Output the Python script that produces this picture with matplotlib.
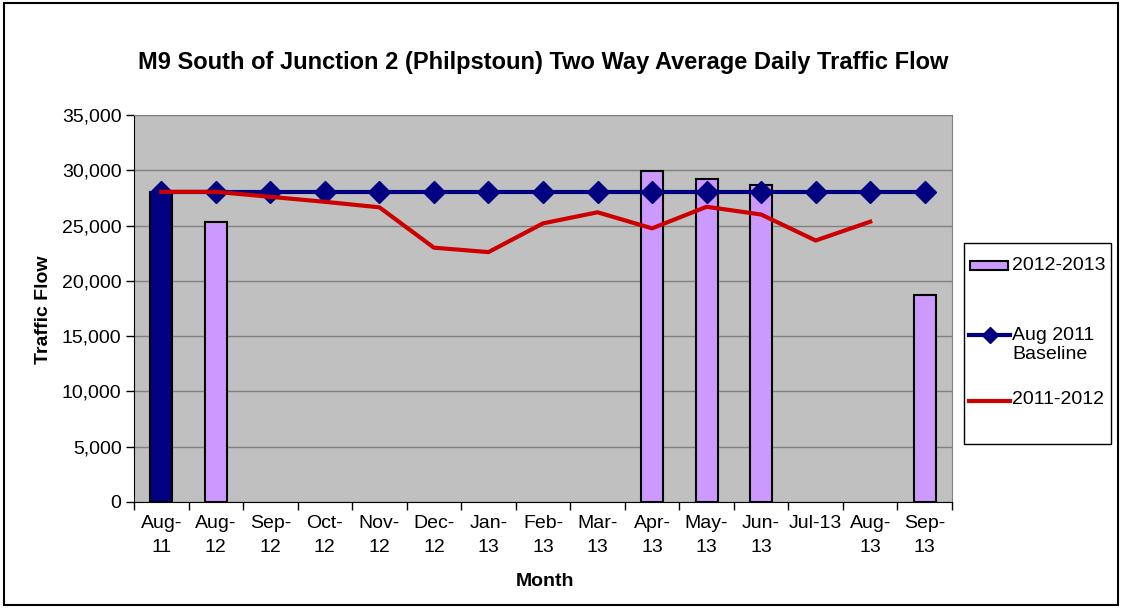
import matplotlib
matplotlib.use("Agg")
import matplotlib.pyplot as plt
import numpy as np
from matplotlib.patches import Rectangle
from matplotlib.lines import Line2D

plt.rcParams['font.family'] = ['Liberation Sans', 'DejaVu Sans']

months = ["Aug-\n11", "Aug-\n12", "Sep-\n12", "Oct-\n12", "Nov-\n12", "Dec-\n12", "Jan-\n13",
          "Feb-\n13", "Mar-\n13", "Apr-\n13", "May-\n13", "Jun-\n13", "Jul-13", "Aug-\n13", "Sep-\n13"]
flow_2012_13 = [28050, 25350, None, None, None, None, None, None, None, 29950, 29200, 28700, None, None, 18750]
baseline = [28050] * 15
flow_2011_12 = [28050, 28050, 27600, 27150, 26650, 23000, 22600, 25200, 26200, 24750, 26700, 26000, 23650, 25350, None]
series_names = ["2012-2013", "Aug 2011\nBaseline", "2011-2012"]

W, H = 1123, 608
fig = plt.figure(figsize=(W / 100, H / 100), dpi=100)
ax = fig.add_axes([134 / W, 106 / H, (952 - 134) / W, (502 - 115) / H])
ax.set_facecolor('#C0C0C0')

NAVY = '#000080'
LAV = '#CC99FF'
RED = '#CC0000'

x = np.arange(len(months))
colors = [NAVY] + [LAV] * (len(months) - 1)
for xi, v, c in zip(x, flow_2012_13, colors):
    if v is not None:
        ax.bar(xi, v, width=0.4, color=c, edgecolor='black', linewidth=1.5, zorder=2)

ax.plot(x, baseline, color=NAVY, linewidth=3, marker='D', markersize=11.5, zorder=3)
l_x = [xi for xi, v in zip(x, flow_2011_12) if v is not None]
l_y = [v for v in flow_2011_12 if v is not None]
ax.plot(l_x, l_y, color=RED, linewidth=3, zorder=4)

ax.set_xlim(-0.5, len(months) - 0.5)
ax.set_ylim(0, 35000)
ax.set_yticks(np.arange(0, 35001, 5000))
ax.set_yticklabels([f"{v:,}" for v in range(0, 35001, 5000)], fontsize=14)
ax.yaxis.grid(True, color='#808080', linewidth=1, zorder=0)
ax.set_axisbelow(True)
ax.set_xticks(x)
ax.set_xticklabels(months, fontsize=14, linespacing=1.6)
ax.set_xticks(np.arange(-0.5, len(months), 1), minor=True)
ax.tick_params(axis='x', which='major', length=0, pad=9)
ax.tick_params(axis='x', which='minor', length=6, direction='out', width=1)
ax.tick_params(axis='y', length=6, direction='out', width=1, pad=3)
for s in ['top', 'right']:
    ax.spines[s].set_color('#808080')
for s in ['left', 'bottom']:
    ax.spines[s].set_color('black')

fig.text(545 / W, 1 - 582 / H, "Month", ha='center', va='center', fontsize=14, fontweight='bold')
fig.text(43 / W, 1 - 310 / H, "Traffic Flow", ha='center', va='center', rotation=90,
         fontsize=14, fontweight='bold')
fig.text(543 / W, 1 - 62 / H, "M9 South of Junction 2 (Philpstoun) Two Way Average Daily Traffic Flow",
         ha='center', va='center', fontsize=17, fontweight='bold')

# Legend (drawn manually for exact placement)
def fx(px):
    return px / W

def fy(py):
    return 1 - py / H

fig.patches.append(Rectangle((fx(964), fy(444)), fx(1111) - fx(964), fy(243) - fy(444),
                             transform=fig.transFigure, fill=True, facecolor='white',
                             edgecolor='black', linewidth=1))
fig.patches.append(Rectangle((fx(970), fy(270)), fx(1008) - fx(970), fy(261) - fy(270),
                             transform=fig.transFigure, facecolor=LAV, edgecolor='black', linewidth=1.5))
fig.lines.append(Line2D([fx(969), fx(1010)], [fy(335), fy(335)], transform=fig.transFigure,
                        color=NAVY, linewidth=3))
fig.lines.append(Line2D([fx(989.5)], [fy(335)], transform=fig.transFigure, color=NAVY,
                        marker='D', markersize=8, linestyle='none'))
fig.lines.append(Line2D([fx(969), fx(1010)], [fy(401), fy(401)], transform=fig.transFigure,
                        color=RED, linewidth=3))
fig.text(fx(1012), fy(265), series_names[0], ha='left', va='center', fontsize=14)
fig.text(fx(1012), fy(345), series_names[1], ha='left', va='center', fontsize=14,
         linespacing=1.15)
fig.text(fx(1012), fy(400), series_names[2], ha='left', va='center', fontsize=14)

fig.patches.append(Rectangle((fx(4), fy(605)), fx(1118) - fx(4), fy(3) - fy(605),
                             transform=fig.transFigure, fill=False, edgecolor='black', linewidth=1.5))

fig.savefig("out.png", dpi=100)
